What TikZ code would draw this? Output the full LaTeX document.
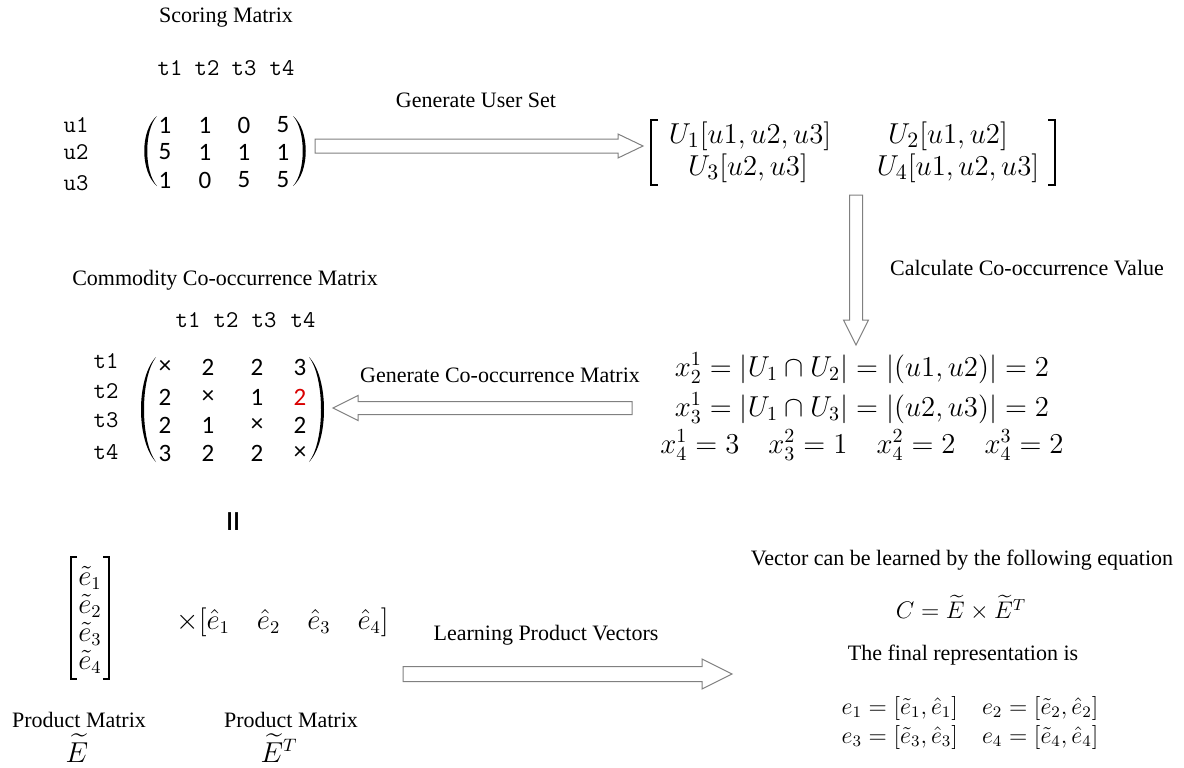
\documentclass[tikz,border=0pt]{standalone}
\usepackage{amsmath}
\usepackage{fontspec}
\setmainfont{Liberation Serif}
\newfontfamily\digf{Carlito}
\usetikzlibrary{calc}
\newcommand\lpar[4]{% x of tips, top, bottom, bulge
  \fill (#1,#2) .. controls ({#1-#4},{#2+(#3-#2)*0.2}) and ({#1-#4},{#3-(#3-#2)*0.2}) .. (#1,#3)
     .. controls ({#1-#4+4},{#3-(#3-#2)*0.2}) and ({#1-#4+4},{#2+(#3-#2)*0.2}) .. (#1,#2) -- cycle;}
\newcommand\rpar[4]{%
  \fill (#1,#2) .. controls ({#1+#4},{#2+(#3-#2)*0.2}) and ({#1+#4},{#3-(#3-#2)*0.2}) .. (#1,#3)
     .. controls ({#1+#4-4},{#3-(#3-#2)*0.2}) and ({#1+#4-4},{#2+(#3-#2)*0.2}) .. (#1,#2) -- cycle;}
\newcommand\harrow[6]{% start x, head back x, tip x, y, shaft half, head half
  \draw[barrow] (#1,{#4-#5}) -- (#2,{#4-#5}) -- (#2,{#4-#6}) -- (#3,#4) -- (#2,{#4+#6}) -- (#2,{#4+#5}) -- (#1,{#4+#5}) -- cycle;}
\newcommand\varrow[6]{% start y, head back y, tip y, x, shaft half, head half
  \draw[barrow] ({#4-#5},#1) -- ({#4-#5},#2) -- ({#4-#6},#2) -- (#4,#3) -- ({#4+#6},#2) -- ({#4+#5},#2) -- ({#4+#5},#1) -- cycle;}
\tikzset{
  txt/.style={font=\fontsize{11}{13}\selectfont, inner sep=0pt},
  lab/.style={font=\ttfamily\fontsize{12}{14}\selectfont, inner sep=0pt},
  ent/.style={font=\digf\fontsize{12.5}{14}\selectfont, inner sep=0pt},
  mth/.style={font=\fontsize{13.5}{16}\selectfont, inner sep=0pt},
  mthA/.style={font=\fontsize{15}{17}\selectfont, inner sep=0pt},
  mthB/.style={font=\fontsize{14.5}{17}\selectfont, inner sep=0pt},
  mthC/.style={font=\fontsize{12}{14}\selectfont, inner sep=0pt},
  barrow/.style={draw=black!50, fill=white, line width=0.5pt, line join=miter},
  brk/.style={line width=0.7pt},
}
\begin{document}
\begin{tikzpicture}[x=0.5pt,y=-0.5pt]
\useasboundingbox (0,0) rectangle (1184,767);

% ---------- Scoring matrix ----------
\node[txt] (st) at (226,18) {Scoring Matrix};
\foreach \n/\x in {1/170,2/207,3/244,4/282} \node[lab] (sh\n) at (\x,68) {t\n};
\foreach \n/\y in {1/125,2/152,3/183} \node[lab] (su\n) at (76,\y) {u\n};
\foreach \r/\y/\a/\b/\c/\d in {1/125/1/1/0/5, 2/152/5/1/1/1, 3/180/1/0/5/5} {
  \node[ent] (s\r a) at (165,\y) {\a};
  \node[ent] (s\r b) at (205,\y) {\b};
  \node[ent] (s\r c) at (244,\y) {\c};
  \node[ent] (s\r d) at (283,\y) {\d};
}
\lpar{157}{116}{186}{17}
\rpar{293}{116}{186}{17}

% arrow 1
\harrow{315}{618}{643}{146}{7}{12}
\node[txt] (l1) at (476,100) {Generate User Set};

% ---------- User set matrix ----------
\draw[brk] (658,120) -- (651,120) -- (651,185) -- (658,185);
\draw[brk] (1048,120) -- (1055,120) -- (1055,185) -- (1048,185);
\node[mthA] (us1) at (750,136) {$U_1[u1,u2,u3]$};
\node[mthA] (us2) at (948,136) {$U_2[u1,u2]$};
\node[mthA] (us3) at (748,168) {$U_3[u2,u3]$};
\node[mthA] (us4) at (958,168) {$U_4[u1,u2,u3]$};

% arrow 2 (down)
\varrow{195}{320}{345}{856}{6.5}{12.5}
\node[txt] (l2) at (1027,268) {Calculate Co-occurrence Value};

% ---------- Co-occurrence values ----------
\node[mthB] (eq1) at (862,368) {$x_2^1=|U_1\cap U_2|=|(u1,u2)|=2$};
\node[mthB] (eq2) at (862,408) {$x_3^1=|U_1\cap U_3|=|(u2,u3)|=2$};
\node[mthB] (eq3) at (862,445) {$x_4^1=3\quad x_3^2=1\quad x_4^2=2\quad x_4^3=2$};

% arrow 3 (left)
\harrow{632}{358}{333}{408}{6.5}{12.5}
\node[txt] (l3) at (500,375) {Generate Co-occurrence Matrix};

% ---------- Co-occurrence matrix ----------
\node[txt] (ct) at (225,280) {Commodity Co-occurrence Matrix};
\foreach \n/\x in {1/188,2/226,3/264,4/303} \node[lab] (ch\n) at (\x,320) {t\n};
\foreach \n/\y in {1/361,2/391,3/420,4/452} \node[lab] (cr\n) at (106,\y) {t\n};
\foreach \r/\y/\a/\b/\c/\d in {1/367/\texttimes/2/2/3, 2/397/2/\texttimes/1/2, 3/425/2/1/\texttimes/2, 4/453/3/2/2/\texttimes} {
  \node[ent] (c\r a) at (165,\y) {\a};
  \node[ent] (c\r b) at (208,\y) {\b};
  \node[ent] (c\r c) at (257,\y) {\c};
  \ifnum\r=2
    \node[ent,text=red!85!black] (c\r d) at (300,\y) {\d};
  \else
    \node[ent] (c\r d) at (300,\y) {\d};
  \fi
}
\lpar{156}{357}{462}{20}
\rpar{309}{357}{462}{20}

% equals sign
\node[font=\digf\fontsize{22}{24}\selectfont, rotate=90, inner sep=0pt] (eqs) at (238,522) {=};

% ---------- Product matrices ----------
\draw[brk] (77,557) -- (71,557) -- (71,679) -- (77,679);
\draw[brk] (103,557) -- (109,557) -- (109,679) -- (103,679);
\foreach \n/\y in {1/578,2/606,3/634,4/662} \node[mth] (et\n) at (90,\y) {$\tilde e_\n$};
\node[mth, anchor=west] (eh) at (176,622) {$\times[\hat e_1\quad \hat e_2\quad \hat e_3\quad \hat e_4]$};
\node[txt] (pm1) at (79,720) {Product Matrix};
\node[mth] (E1) at (77,748) {$\widetilde{E}$};
\node[txt] (pm2) at (291,720) {Product Matrix};
\node[mth] (E2) at (279,748) {$\widetilde{E}^T$};

% arrow 4
\harrow{403}{702}{732}{674}{7.5}{15}
\node[txt] (l4) at (546,635) {Learning Product Vectors};

% ---------- Right bottom ----------
\node[txt] (v1) at (962,560) {Vector can be learned by the following equation};
\node[mthC] (ce) at (961,608) {$C=\widetilde{E}\times\widetilde{E}^T$};
\node[txt] (v2) at (963,655) {The final representation is};
\node[mthC] (r1) at (970,708) {$e_1=[\tilde e_1,\hat e_1]\quad e_2=[\tilde e_2,\hat e_2]$};
\node[mthC] (r2) at (970,737) {$e_3=[\tilde e_3,\hat e_3]\quad e_4=[\tilde e_4,\hat e_4]$};
\end{tikzpicture}
\end{document}
